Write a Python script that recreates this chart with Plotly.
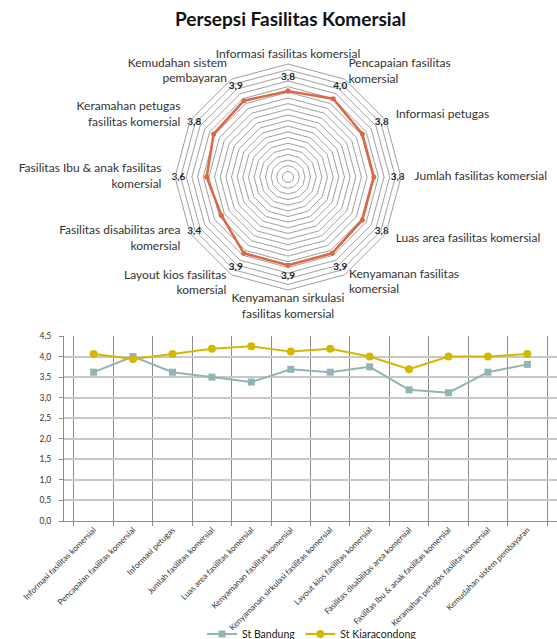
import math
import plotly.graph_objects as go

# Aspek penilaian fasilitas komersial
aspek = [
    "Informasi fasilitas komersial",
    "Pencapaian fasilitas komersial",
    "Informasi petugas",
    "Jumlah fasilitas komersial",
    "Luas area fasilitas komersial",
    "Kenyamanan fasilitas komersial",
    "Kenyamanan sirkulasi fasilitas komersial",
    "Layout kios fasilitas komersial",
    "Fasilitas disabilitas area komersial",
    "Fasilitas Ibu & anak fasilitas komersial",
    "Keramahan petugas fasilitas komersial",
    "Kemudahan sistem pembayaran",
]

# Label sumbu radar (dibungkus menjadi dua baris)
label_radar = [
    "Informasi fasilitas komersial",
    "Pencapaian fasilitas<br>komersial",
    "Informasi petugas",
    "Jumlah fasilitas komersial",
    "Luas area fasilitas komersial",
    "Kenyamanan fasilitas<br>komersial",
    "Kenyamanan sirkulasi<br>fasilitas komersial",
    "Layout kios fasilitas<br>komersial",
    "Fasilitas disabilitas area<br>komersial",
    "Fasilitas Ibu & anak fasilitas<br>komersial",
    "Keramahan petugas<br>fasilitas komersial",
    "Kemudahan sistem<br>pembayaran",
]

# Nilai rata-rata persepsi (radar)
rata_rata = [3.8, 4.0, 3.8, 3.8, 3.8, 3.9, 3.9, 3.9, 3.4, 3.6, 3.8, 3.9]

# Nilai per stasiun
st_bandung = [3.62, 4.00, 3.62, 3.50, 3.38, 3.69, 3.62, 3.75, 3.19, 3.12, 3.62, 3.81]
st_kiaracondong = [4.06, 3.94, 4.06, 4.19, 4.25, 4.12, 4.19, 4.00, 3.69, 4.00, 4.00, 4.06]

y_ticks = [0.0, 0.5, 1.0, 1.5, 2.0, 2.5, 3.0, 3.5, 4.0, 4.5]

FONT = "Lato"
W, H = 557, 639

# Geometri radar (piksel)
CX, CY, RAD = 288, 177, 113
R_MAX = 5          # skala sumbu radial
R_LABEL_MAX = 6    # skala lapisan label (lebih lebar)
RAD2 = RAD * R_LABEL_MAX / R_MAX

# jarak radial dan posisi teks label kategori (searah jarum jam dari atas)
jarak_label = [5.15, 5.35, 5.5, 5.6, 5.5, 5.4, 5.15, 5.45, 5.5, 5.6, 5.5, 5.4]
posisi_label = (
    ["top center"]
    + ["middle right"] * 5
    + ["bottom center"]
    + ["middle left"] * 5
)
# jarak label nilai: sedikit lebih jauh di sisi kiri/kanan
n = len(aspek)
jarak_nilai = [4.4 + 0.45 * abs(math.sin(2 * math.pi * i / n)) for i in range(n)]


def dom(c, half, total, flip=False):
    lo, hi = (c - half) / total, (c + half) / total
    return [1 - hi, 1 - lo] if flip else [lo, hi]


fig = go.Figure()

# ---- Radar ----
fig.add_trace(go.Scatterpolar(
    r=rata_rata + [rata_rata[0]],
    theta=aspek + [aspek[0]],
    mode="lines+markers",
    line=dict(color="#DD6644", width=2.5),
    marker=dict(color="#DD6644", size=5),
    showlegend=False,
    hoverinfo="skip",
    subplot="polar",
))
# Label nilai di dekat tepi luar
fig.add_trace(go.Scatterpolar(
    r=jarak_nilai,
    theta=aspek,
    mode="text",
    text=[f"{v:.1f}".replace(".", ",") for v in rata_rata],
    textfont=dict(family=FONT, size=10, color="#222222", weight="bold"),
    showlegend=False,
    hoverinfo="skip",
    subplot="polar",
))
# Label kategori pada lapisan radar kedua yang lebih lebar
fig.add_trace(go.Scatterpolar(
    r=jarak_label,
    theta=aspek,
    mode="text",
    text=label_radar,
    textposition=posisi_label,
    textfont=dict(family=FONT, size=12, color="#333333"),
    showlegend=False,
    hoverinfo="skip",
    subplot="polar2",
))

# ---- Grafik garis ----
fig.add_trace(go.Scatter(
    x=aspek, y=st_bandung, name="St Bandung",
    mode="lines+markers",
    line=dict(color="#93B3B4", width=2),
    marker=dict(symbol="square", size=7, color="#93B3B4"),
    xaxis="x", yaxis="y",
))
fig.add_trace(go.Scatter(
    x=aspek, y=st_kiaracondong, name="St Kiaracondong",
    mode="lines+markers",
    line=dict(color="#D4B800", width=2),
    marker=dict(symbol="circle", size=8, color="#D4B800"),
    xaxis="x", yaxis="y",
))

grid = "#A0A0A0"

fig.update_layout(
    width=W, height=H,
    margin=dict(l=0, r=0, t=0, b=0, autoexpand=False),
    paper_bgcolor="white",
    plot_bgcolor="white",
    separators=",.",
    font=dict(family=FONT, color="#333333"),
    annotations=[dict(
        text="<b>Persepsi Fasilitas Komersial</b>",
        x=290 / W, y=1 - 19 / H, xref="paper", yref="paper",
        xanchor="center", yanchor="middle", showarrow=False,
        font=dict(family=FONT, size=19, color="#111111"),
    )],
    polar=dict(
        domain=dict(x=dom(CX, RAD, W), y=dom(CY, RAD, H, flip=True)),
        bgcolor="white",
        gridshape="linear",
        radialaxis=dict(
            range=[0, R_MAX], dtick=0.25, showticklabels=False, ticks="",
            showline=False, gridcolor=grid, gridwidth=1,
        ),
        angularaxis=dict(
            direction="clockwise", rotation=90,
            showticklabels=False,
            showgrid=False, ticks="", showline=True,
            linecolor=grid, linewidth=1,
        ),
    ),
    polar2=dict(
        domain=dict(x=dom(CX, RAD2, W), y=dom(CY, RAD2, H, flip=True)),
        bgcolor="rgba(0,0,0,0)",
        radialaxis=dict(range=[0, R_LABEL_MAX], visible=False),
        angularaxis=dict(
            direction="clockwise", rotation=90, visible=False,
        ),
    ),
    xaxis=dict(
        domain=[64 / W, 1.0],
        type="category",
        tickson="boundaries",
        automargin=False,
        showgrid=True, gridcolor="#8C8C8C", gridwidth=1,
        ticks="outside", ticklen=4, tickcolor="#8C8C8C",
        tickangle=-45,
        tickfont=dict(family=FONT, size=8.2, color="#333333"),
        showline=True, linecolor="#8C8C8C",
        anchor="y",
    ),
    yaxis=dict(
        domain=[1 - 521 / H, 1 - 336 / H],
        range=[0, 4.5],
        automargin=False,
        tickvals=y_ticks,
        tickformat=".1f",
        showgrid=True, gridcolor="#C8C8C8", gridwidth=1.5,
        ticks="outside", ticklen=4, tickcolor="#8C8C8C",
        ticklabelstandoff=6,
        showline=True, linecolor="#8C8C8C",
        tickfont=dict(family=FONT, size=8.5, color="#333333"),
        zeroline=False,
        anchor="x",
    ),
    legend=dict(
        orientation="h",
        x=312 / W, y=1 - 634 / H,
        xanchor="center", yanchor="middle",
        font=dict(family=FONT, size=10.5, color="#222222"),
        bgcolor="rgba(0,0,0,0)",
        itemwidth=30,
    ),
)

fig.write_html("out.html")
